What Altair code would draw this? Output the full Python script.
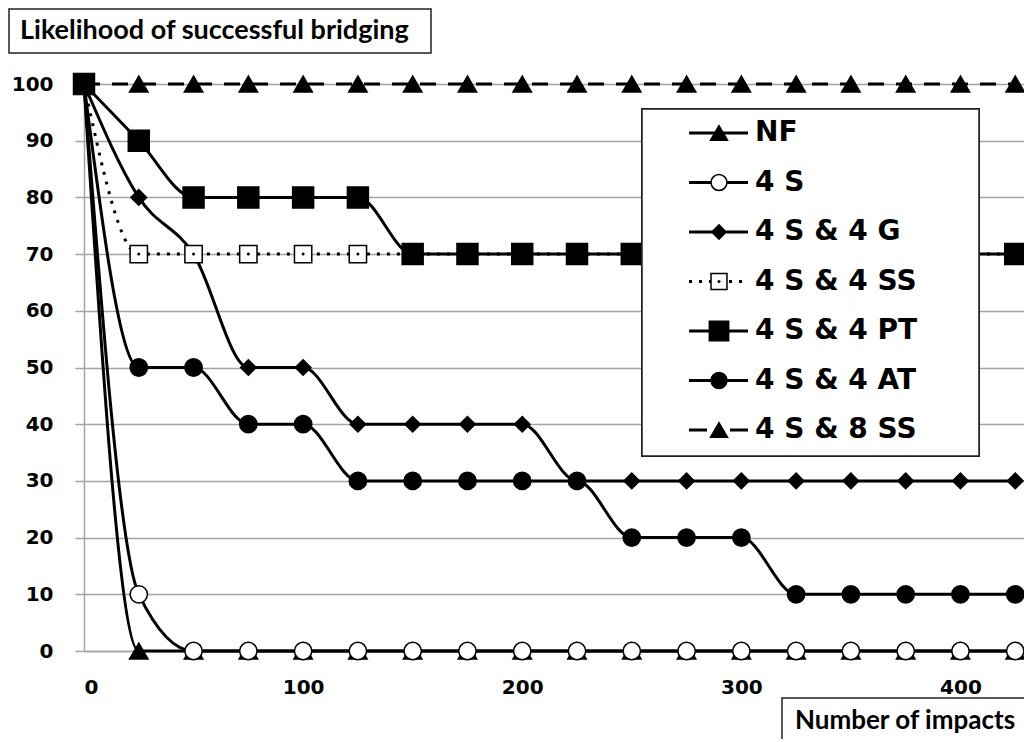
import altair as alt
import pandas as pd

# ---------------- data ----------------
impacts = [0, 25, 50, 75, 100, 125, 150, 175, 200, 225, 250, 275, 300, 325, 350, 375, 400, 425]
series_names = ["NF", "4 S", "4 S & 4 G", "4 S & 4 SS", "4 S & 4 PT", "4 S & 4 AT", "4 S & 8 SS"]

nf = [100, 0, 0, 0, 0, 0, 0, 0, 0, 0, 0, 0, 0, 0, 0, 0, 0, 0]
s4 = [100, 10, 0, 0, 0, 0, 0, 0, 0, 0, 0, 0, 0, 0, 0, 0, 0, 0]
s4_g4 = [100, 80, 70, 50, 50, 40, 40, 40, 40, 30, 30, 30, 30, 30, 30, 30, 30, 30]
s4_ss4 = [100, 70, 70, 70, 70, 70, 70, 70, 70, 70, 70, 70, 70, 70, 70, 70, 70, 70]
s4_pt4 = [100, 90, 80, 80, 80, 80, 70, 70, 70, 70, 70, 70, 70, 70, 70, 70, 70, 70]
s4_at4 = [100, 50, 50, 40, 40, 30, 30, 30, 30, 30, 20, 20, 20, 10, 10, 10, 10, 10]
s4_ss8 = [100, 100, 100, 100, 100, 100, 100, 100, 100, 100, 100, 100, 100, 100, 100, 100, 100, 100]

y_ticks = [0, 10, 20, 30, 40, 50, 60, 70, 80, 90, 100]
x_ticks = [0, 100, 200, 300, 400]
title_text = "Likelihood of successful bridging"
x_title_text = "Number of impacts"

all_values = [nf, s4, s4_g4, s4_ss4, s4_pt4, s4_at4, s4_ss8]
rows = []
for name, vals in zip(series_names, all_values):
    for xv, yv in zip(impacts, vals):
        rows.append({"series": name, "impacts": xv, "value": yv})
df = pd.DataFrame(rows)
legend_df = pd.DataFrame({"series": series_names, "row": list(range(len(series_names)))})

# ---------------- styles ----------------
styles = {
    "NF": dict(shape="triangle-up", size=340, fill="black", dash=None, ldash=None),
    "4 S": dict(shape="circle", size=300, fill="white", dash=None, ldash=None),
    "4 S & 4 G": dict(shape="diamond", size=240, fill="black", dash=None, ldash=None),
    "4 S & 4 SS": dict(shape="square", size=300, fill="white", dash=[3, 7], ldash=[3, 7]),
    "4 S & 4 PT": dict(shape="square", size=440, fill="black", dash=None, ldash=None),
    "4 S & 4 AT": dict(shape="circle", size=300, fill="black", dash=None, ldash=None),
    "4 S & 8 SS": dict(shape="triangle-up", size=340, fill="black", dash=[16, 12], ldash=[18, 23]),
}

GRID = "#a3a3a3"
AXFONT = "DejaVu Sans"

X = alt.X("impacts:Q",
          scale=alt.Scale(domain=[0, 429], nice=False, zero=False),
          axis=alt.Axis(values=x_ticks, grid=False, ticks=False, tickSize=0, labelPadding=26,
                        title=None, domainColor=GRID, domainWidth=1.5, labelFont=AXFONT,
                        labelFontWeight="bold", labelFontSize=20, labelColor="black", format="d"))
Y = alt.Y("value:Q",
          scale=alt.Scale(domain=[0, 100], nice=False),
          axis=alt.Axis(values=y_ticks, grid=True, gridColor=GRID, gridWidth=1.5, tickSize=9,
                        tickColor=GRID, tickWidth=1.5, labelPadding=22, title=None,
                        domainColor=GRID, domainWidth=1.5, labelFont=AXFONT,
                        labelFontWeight="bold", labelFontSize=20, labelColor="black", format="d"))

series_layers = []
for name in series_names:
    st = styles[name]
    line_kw = dict(color="black", strokeWidth=3, interpolate="monotone")
    if st["dash"] is not None:
        line_kw["strokeDash"] = st["dash"]
    series_layers.append(
        alt.Chart().mark_line(**line_kw).transform_filter(alt.datum.series == name)
    )
    series_layers.append(
        alt.Chart().mark_point(shape=st["shape"], size=st["size"], filled=True, fill=st["fill"],
                               stroke="black", strokeWidth=1.5, opacity=1)
        .transform_filter(alt.datum.series == name)
    )
    if name == "4 S & 4 SS":
        series_layers.append(
            alt.Chart().mark_point(shape="circle", size=9, filled=True, fill="black",
                                   strokeWidth=0, opacity=1)
            .transform_filter(alt.datum.series == name)
        )

main = alt.layer(*series_layers, data=df).encode(x=X, y=Y)

# ---------------- legend ----------------
LY = alt.Y("row:Q", scale=alt.Scale(domain=[0, 6], range=[49, 346]), axis=None)
legend_layers = [
    alt.Chart().mark_rect(fill="white", stroke="#222", strokeWidth=1.5).encode(
        x=alt.value(558), x2=alt.value(895), y=alt.value(25), y2=alt.value(372))
]
for name in series_names:
    st = styles[name]
    rule_kw = dict(color="black", strokeWidth=3)
    if st["ldash"] is not None:
        rule_kw["strokeDash"] = st["ldash"]
    legend_layers.append(
        alt.Chart().mark_rule(**rule_kw).encode(x=alt.value(605), x2=alt.value(664), y=LY)
        .transform_filter(alt.datum.series == name))
    legend_layers.append(
        alt.Chart().mark_point(shape=st["shape"], size=st["size"] * 0.85, filled=True,
                               fill=st["fill"], stroke="black", strokeWidth=1.5, opacity=1)
        .encode(x=alt.value(635), y=LY).transform_filter(alt.datum.series == name))
    if name == "4 S & 4 SS":
        legend_layers.append(
            alt.Chart().mark_point(shape="circle", size=9, filled=True, fill="black",
                                   strokeWidth=0, opacity=1)
            .encode(x=alt.value(635), y=LY).transform_filter(alt.datum.series == name))
    legend_layers.append(
        alt.Chart().mark_text(align="left", baseline="middle", font=AXFONT, fontWeight="bold",
                              fontSize=28, color="black")
        .encode(x=alt.value(671), y=LY, text="series:N")
        .transform_filter(alt.datum.series == name))

legend = alt.layer(*legend_layers, data=legend_df)

# ---------------- title boxes ----------------
title_df = pd.DataFrame({"label": [title_text]})
xtitle_df = pd.DataFrame({"label": [x_title_text]})

title_box = alt.Chart(title_df).mark_rect(fill="white", stroke="#222", strokeWidth=1.5).encode(
    x=alt.value(-75), x2=alt.value(347), y=alt.value(-75), y2=alt.value(-31))
title_txt = alt.Chart(title_df).mark_text(align="left", baseline="middle", font="Lato",
                                          fontWeight="bold", fontSize=27, color="black").encode(
    x=alt.value(-64), y=alt.value(-53), text="label:N")
xt_box = alt.Chart(xtitle_df).mark_rect(fill="white", stroke="#222", strokeWidth=1.5).encode(
    x=alt.value(698), x2=alt.value(960), y=alt.value(614), y2=alt.value(680))
xt_txt = alt.Chart(xtitle_df).mark_text(align="left", baseline="alphabetic", font="Lato",
                                        fontWeight="bold", fontSize=26, color="black").encode(
    x=alt.value(711), y=alt.value(645), text="label:N")

chart = alt.layer(main, legend, title_box, title_txt, xt_box, xt_txt).resolve_scale(
    y="independent"
).properties(
    width=940, height=567,
    padding={"left": 76, "top": 76, "right": 0, "bottom": 88},
    autosize=alt.AutoSizeParams(type="none"),
).configure_view(stroke=None)

chart.save("out.html", embed_options={"renderer": "svg", "actions": False})
